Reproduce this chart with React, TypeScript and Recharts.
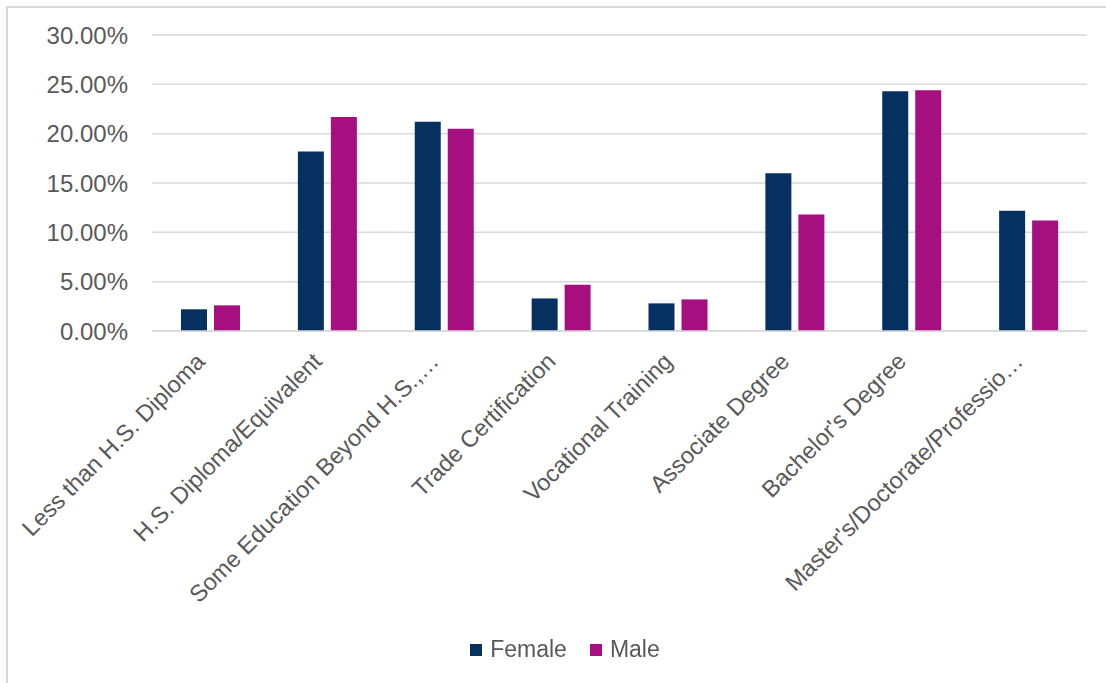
import { BarChart, Bar, XAxis, YAxis, CartesianGrid, Legend } from 'recharts';

const categories = [
  'Less than H.S. Diploma',
  'H.S. Diploma/Equivalent',
  'Some Education Beyond H.S.,…',
  'Trade Certification',
  'Vocational Training',
  'Associate Degree',
  "Bachelor's Degree",
  "Master's/Doctorate/Professio…",
];

const female = [2.2, 18.2, 21.2, 3.3, 2.8, 16.0, 24.3, 12.2];
const male = [2.6, 21.7, 20.5, 4.7, 3.2, 11.8, 24.4, 11.2];

const yTicks = [0, 5, 10, 15, 20, 25, 30];

const data = categories.map((name, i) => ({ name, female: female[i], male: male[i] }));

const textColor = '#595959';
const fontFamily = '"Liberation Sans", Arial, sans-serif';

function AngledTick({ x, y, payload }: any) {
  const ax = x - 16;
  const ay = y + 12;
  return (
    <text
      x={ax}
      y={ay}
      transform={`rotate(-45, ${ax}, ${ay})`}
      textAnchor='end'
      dominantBaseline='hanging'
      fill={textColor}
      fontSize={23.5}
      fontFamily={fontFamily}
    >
      {payload.value}
    </text>
  );
}

function LegendContent({ payload }: any) {
  return (
    <div style={{ display: 'flex', justifyContent: 'center', gap: 23, height: 27 }}>
      {(payload || []).map((item: any) => (
        <div key={item.value} style={{ display: 'flex', alignItems: 'center' }}>
          <span style={{ width: 12, height: 12, background: item.color, marginRight: 8, display: 'inline-block' }} />
          <span style={{ color: textColor, fontSize: 23, fontFamily, lineHeight: '27px' }}>{item.value}</span>
        </div>
      ))}
    </div>
  );
}

export default function App() {
  return (
    <div style={{ position: 'fixed', left: 0, top: 0, width: 1106, height: 683, background: '#fff' }}>
      <div
        style={{
          position: 'absolute',
          left: 6,
          top: 6,
          width: 1106,
          height: 683,
          borderLeft: '2px solid #d9d9d9',
          borderTop: '2px solid #d9d9d9',
        }}
      />
      <div style={{ position: 'absolute', left: 0, top: 0 }}>
        <BarChart
          width={1106}
          height={683}
          data={data}
          margin={{ top: 35, right: 19, left: 0, bottom: 20 }}
          barSize={26}
          barGap={7}
        >
          <CartesianGrid vertical={false} stroke='#d9d9d9' strokeWidth={1.5} />
          <XAxis
            dataKey='name'
            interval={0}
            height={305}
            tick={<AngledTick />}
            tickLine={false}
            axisLine={{ stroke: '#d9d9d9', strokeWidth: 1.5 }}
          />
          <YAxis
            width={152}
            domain={[0, 30]}
            ticks={yTicks}
            tickLine={false}
            axisLine={false}
            tickSize={0}
            tickMargin={24}
            tickFormatter={(v: number) => `${v.toFixed(2)}%`}
            tick={{ fill: textColor, fontSize: 24, fontFamily }}
          />
          <Legend
            verticalAlign='bottom'
            content={<LegendContent />}
            wrapperStyle={{ left: 0, width: 1130 }}
          />
          <Bar dataKey='female' name='Female' fill='#06305f' isAnimationActive={false} />
          <Bar dataKey='male' name='Male' fill='#a50f80' isAnimationActive={false} />
        </BarChart>
      </div>
    </div>
  );
}
